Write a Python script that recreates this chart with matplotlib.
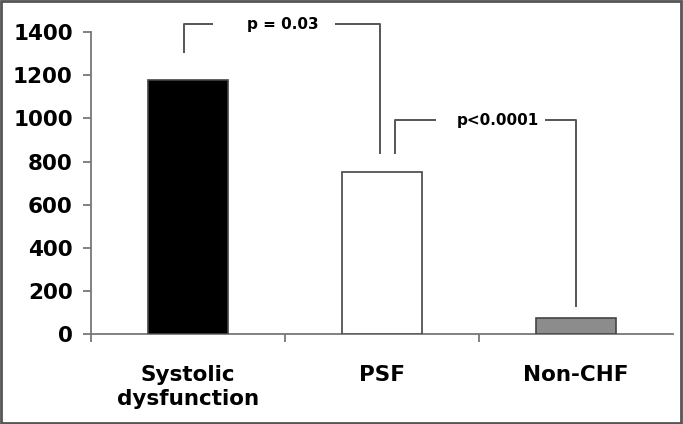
import matplotlib.pyplot as plt
from matplotlib.patches import Rectangle

# data
groups = ["Systolic\ndysfunction", "PSF", "Non-CHF"]
values = [1180, 752, 75]
bar_colors = ["#000000", "#ffffff", "#8c8c8c"]
yticks = [0, 200, 400, 600, 800, 1000, 1200, 1400]

# significance brackets: (x_left, x_right, y_left_end, y_right_end, y_top, label, label_x, gap_left, gap_right)
brackets = [
    (-0.02, 0.99, 1303, 834, 1437, "p = 0.03", 0.49, 0.13, 0.76),
    (1.07, 2.00, 834, 125, 992, "p<0.0001", 1.60, 1.28, 1.84),
]

plt.rcParams["font.family"] = ["DejaVu Sans"]
plt.rcParams["font.weight"] = "bold"

fig = plt.figure(figsize=(6.83, 4.24), dpi=100)
ax = fig.add_axes([0.133, 0.212, 0.852, 0.712])

x = list(range(len(groups)))
ax.bar(x, values, width=0.41, color=bar_colors, edgecolor="#444444", linewidth=1.2, zorder=3)

line_kw = dict(color="#555555", linewidth=1.4, clip_on=False, solid_capstyle="butt")
for xl, xr, yl, yr, yt, label, lx, gl, gr in brackets:
    ax.plot([xl, xl, gl], [yl, yt, yt], **line_kw)
    ax.plot([gr, xr, xr], [yt, yt, yr], **line_kw)
    ax.text(lx, yt, label, ha="center", va="center", fontsize=11, fontweight="bold")

ax.set_xlim(-0.5, 2.5)
ax.set_ylim(0, 1400)
ax.set_yticks(yticks)
ax.set_xticks(x)
ax.set_xticklabels(groups, fontsize=15.5, fontweight="bold", linespacing=1.25)
ax.set_xticks([-0.5, 0.5, 1.5], minor=True)
ax.tick_params(axis="x", which="major", length=0, pad=22)
ax.tick_params(axis="x", which="minor", length=6, width=1.3, color="#777777", direction="out")
ax.tick_params(axis="y", length=6, width=1.3, color="#777777", labelsize=15.5, pad=7)
for lbl in ax.get_yticklabels():
    lbl.set_fontweight("bold")

for side in ["top", "right"]:
    ax.spines[side].set_visible(False)
for side in ["left", "bottom"]:
    ax.spines[side].set_color("#777777")
    ax.spines[side].set_linewidth(1.3)

# grey frame around the whole picture
fig.patches.append(Rectangle((0.002, 0.003), 0.995, 0.994, transform=fig.transFigure,
                             fill=False, edgecolor="#555555", linewidth=2))

fig.savefig("out.png", dpi=100)
